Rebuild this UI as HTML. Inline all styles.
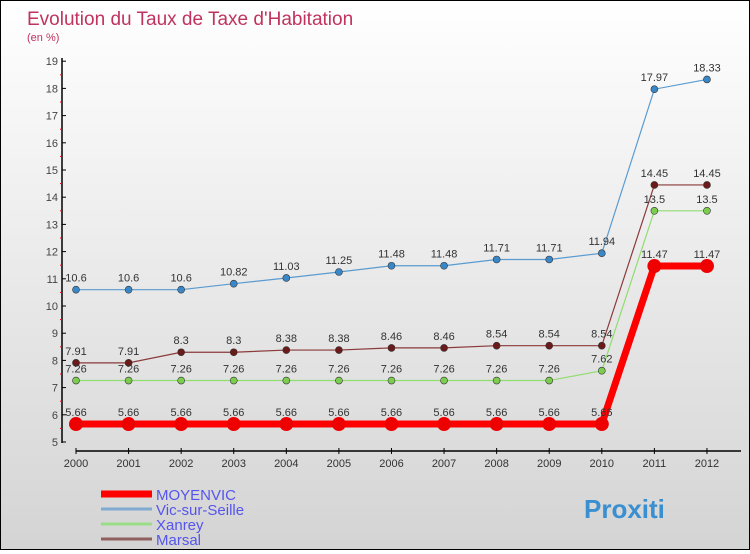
<!DOCTYPE html>
<html><head><meta charset="utf-8">
<style>
body{margin:0;}
#c{width:748px;height:548px;border:1px solid #000;background:linear-gradient(#fff,#d4d4d4);position:relative;font-family:"Liberation Sans",sans-serif;}
svg text{font-family:"Liberation Sans",sans-serif;}
</style></head><body>
<div id="c">
<svg id="s" width="748" height="548">
<text x="26" y="24" font-size="19" fill="#c0335f">Evolution du Taux de Taxe d'Habitation</text>
<text x="26" y="40" font-size="11" fill="#c0335f">(en %)</text>
</svg>
</div>
<script>
const years=["2000","2001","2002","2003","2004","2005","2006","2007","2008","2009","2010","2011","2012"];
const moyenvic=[5.66,5.66,5.66,5.66,5.66,5.66,5.66,5.66,5.66,5.66,5.66,11.47,11.47];
const vic=[10.6,10.6,10.6,10.82,11.03,11.25,11.48,11.48,11.71,11.71,11.94,17.97,18.33];
const xanrey=[7.26,7.26,7.26,7.26,7.26,7.26,7.26,7.26,7.26,7.26,7.62,13.5,13.5];
const marsal=[7.91,7.91,8.3,8.3,8.38,8.38,8.46,8.46,8.54,8.54,8.54,14.45,14.45];
const yTicks=[5,6,7,8,9,10,11,12,13,14,15,16,17,18,19];
const NS="http://www.w3.org/2000/svg",s=document.getElementById('s');
function X(i){return 75+i*52.58;}
function Y(v){return 441-(v-5)*27.2;}
function el(t,a,p){const e=document.createElementNS(NS,t);for(const k in a)e.setAttribute(k,a[k]);(p||s).appendChild(e);return e;}
let e=el('line',{x1:61,y1:57,x2:61,y2:442,stroke:'#000','stroke-width':1.5});

e=el('line',{x1:75,y1:450,x2:740,y2:450,stroke:'#000','stroke-width':1.5});

yTicks.forEach(v=>{el('line',{x1:61,y1:Y(v),x2:65,y2:Y(v),stroke:'#000'});
if(v<19)el('line',{x1:59,y1:Y(v+0.5),x2:61,y2:Y(v+0.5),stroke:'#f00'});
const t=el('text',{x:57,y:Y(v)+4,'font-size':11,fill:'#444','text-anchor':'end'});t.textContent=v;
});
years.forEach((y,i)=>{el('line',{x1:X(i),y1:447,x2:X(i),y2:453,stroke:'#000'});
const t=el('text',{x:X(i),y:466,'font-size':11,fill:'#333','text-anchor':'middle'});t.textContent=y;
});
function series(d,col,dot,w,r,name){
const g=el('g',{});
el('polyline',{points:d.map((v,i)=>X(i)+','+Y(v)).join(' '),fill:'none',stroke:col,'stroke-width':w},g);
d.forEach((v,i)=>{const c=el('circle',{cx:X(i),cy:Y(v),r:r,fill:dot,stroke:'#333','stroke-width':r>5?0:0.6},g);

const t=el('text',{x:X(i),y:Y(v)-8,'font-size':11,fill:'#333','text-anchor':'middle'},g);t.textContent=v;
});}
series(vic,'#5a9bd0','#3a87c8',1.2,3.5,'vic-sur-seille');
series(marsal,'#8b3a3a','#6b1a1a',1.2,3.5,'marsal');
series(xanrey,'#90dd70','#7ccc50',1.2,3.5,'xanrey');
series(moyenvic,'#f00','#e00',7,7,'moyenvic');
const leg=[["MOYENVIC","#f00",7],["Vic-sur-Seille","#80aad0",3],["Xanrey","#99dd88",3],["Marsal","#906060",3]];
leg.forEach((l,i)=>{const y=493+i*15;
const g=el('g',{});
el('line',{x1:100,y1:y,x2:151,y2:y,stroke:l[1],'stroke-width':l[2]},g);
const t=el('text',{x:155,y:y+6,'font-size':15,fill:'#5555ee'},g);t.textContent=l[0];});
const lg=el('text',{x:583,y:517,'font-size':26,'font-weight':'bold',fill:'#3a8fd0'});lg.textContent="Proxiti";

</script>
</body></html>
